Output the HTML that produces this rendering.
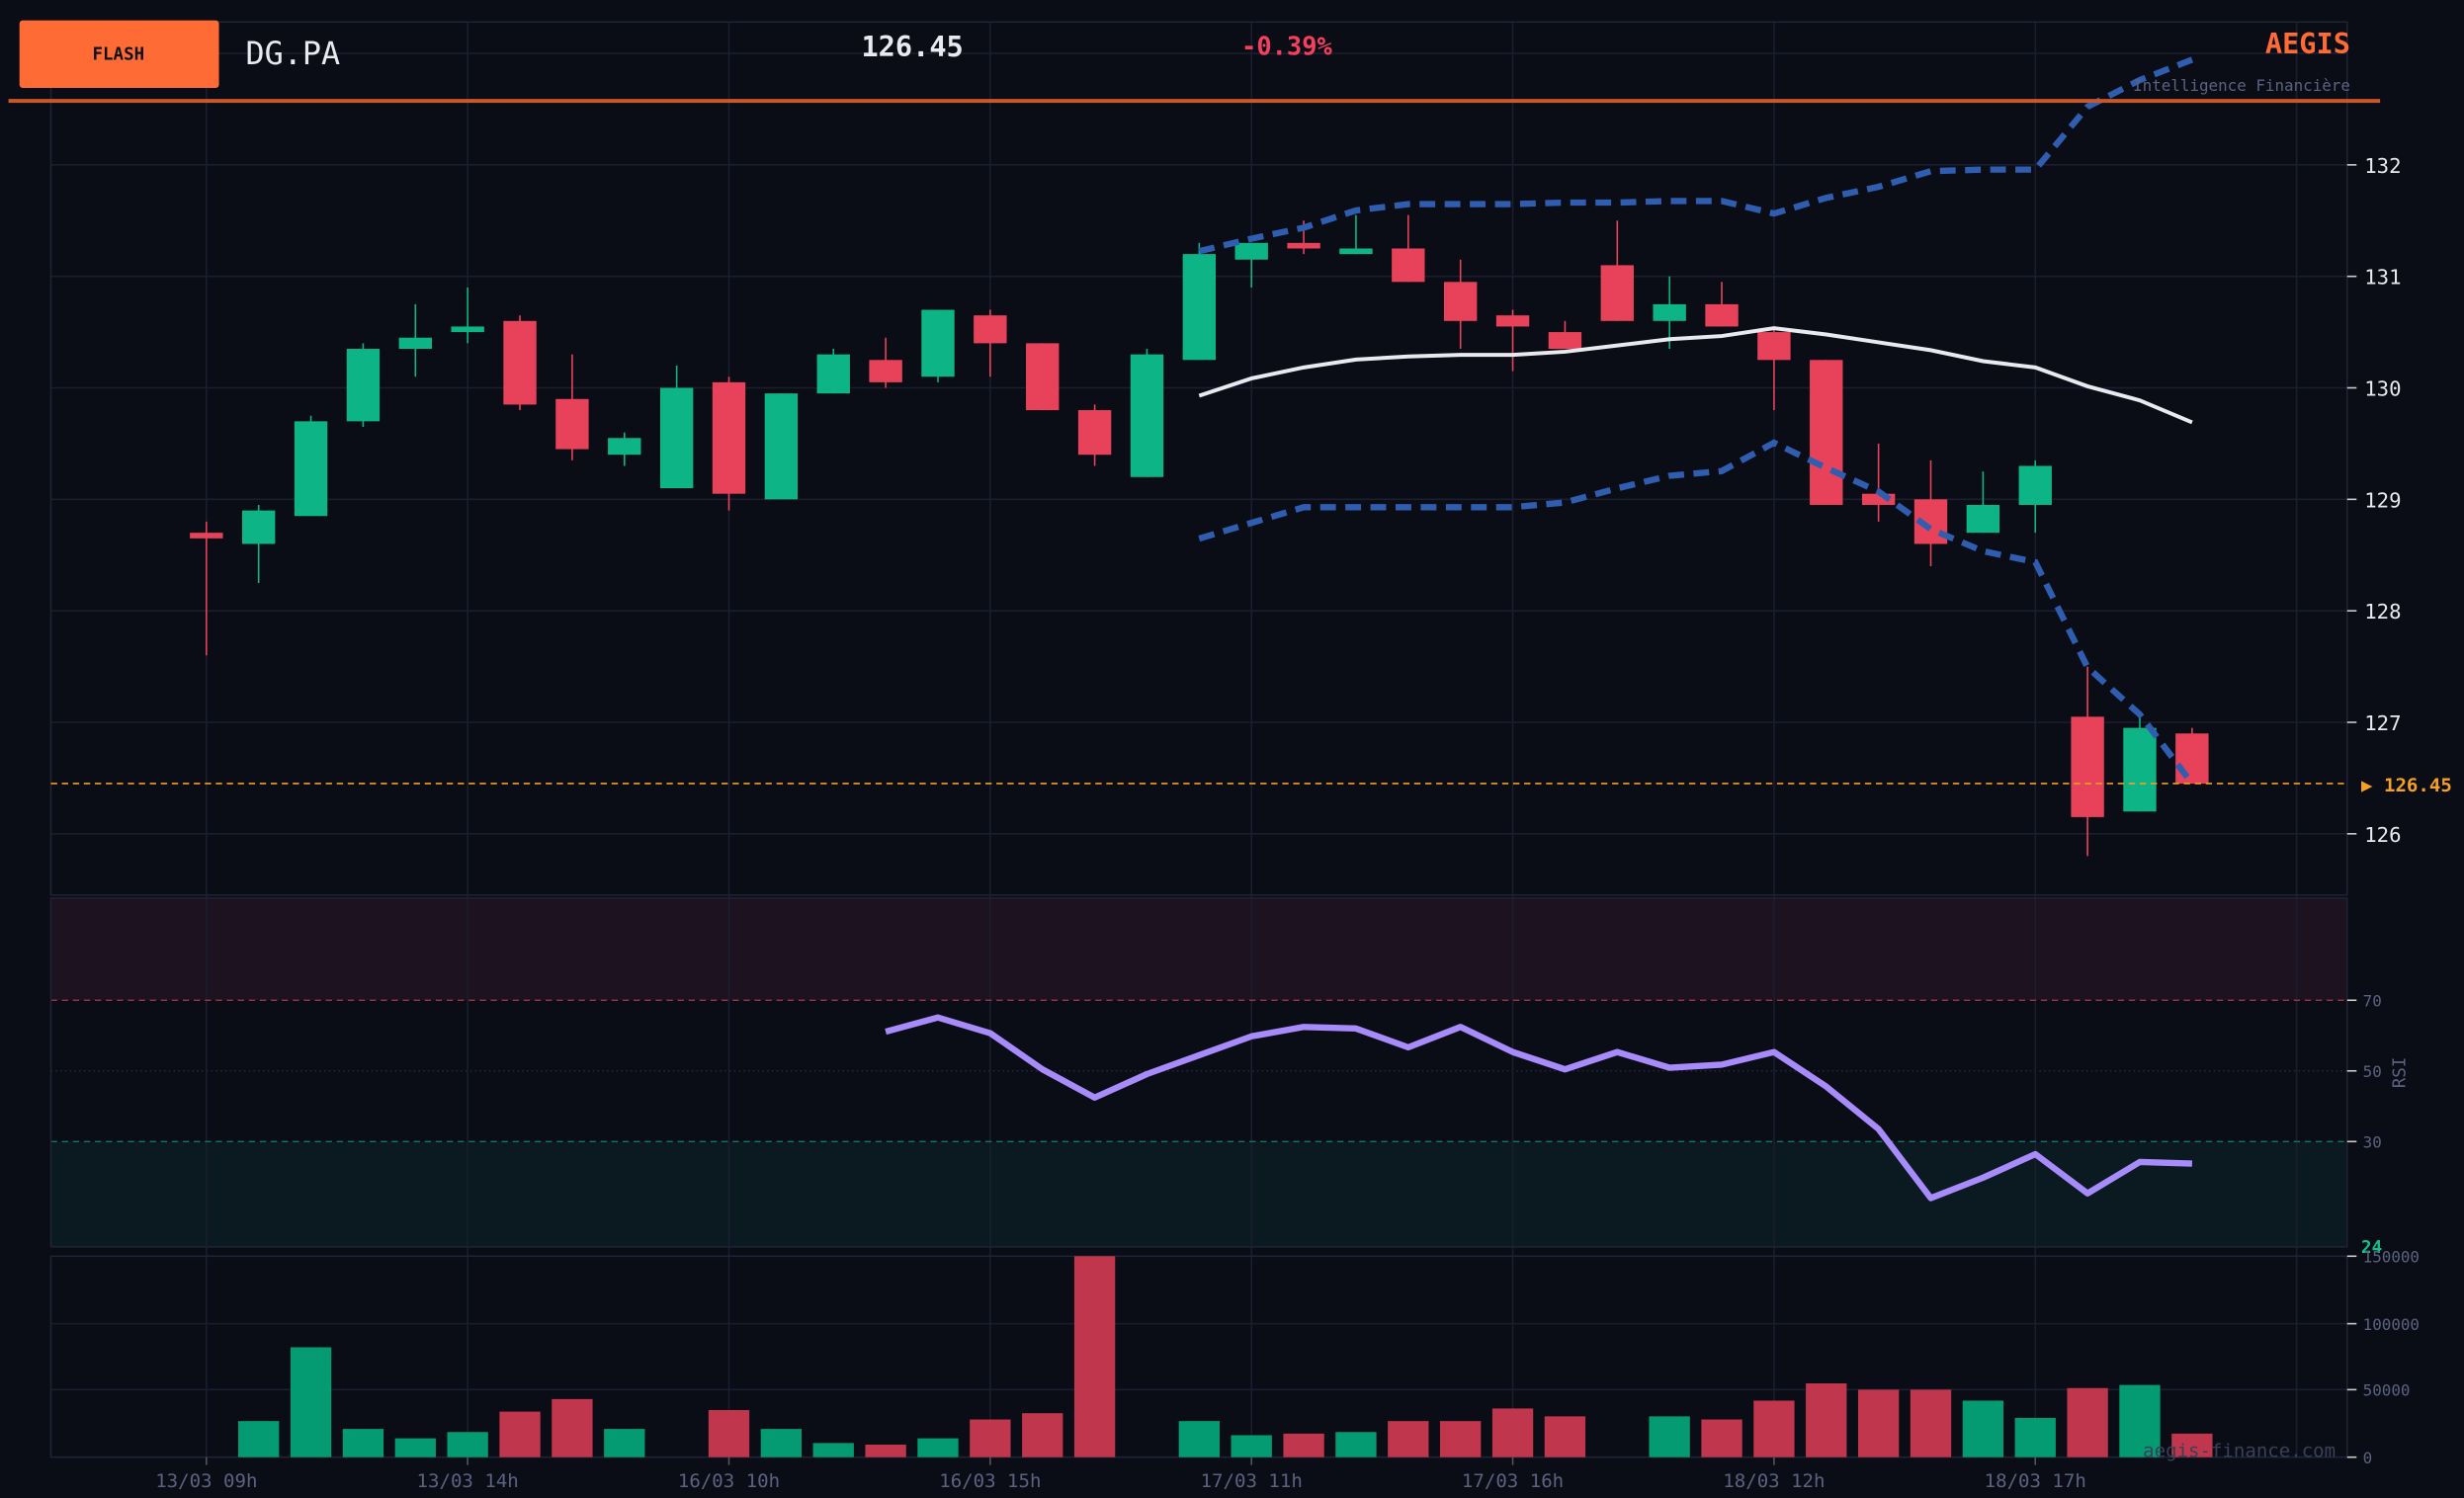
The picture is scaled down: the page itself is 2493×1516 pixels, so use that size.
<!DOCTYPE html>
<html><head><meta charset="utf-8"><style>
html,body{margin:0;padding:0;background:#0b0d16;}
svg{display:block;font-family:"DejaVu Sans Mono","Liberation Mono",monospace;}
</style></head><body>
<svg id="c" width="2493" height="1516" viewBox="0 0 1568 954" xmlns="http://www.w3.org/2000/svg">
<rect width="1568" height="954" fill="#0b0d16"/>
<g id="g"></g>
</svg>
<script>
const NS="http://www.w3.org/2000/svg",G=document.getElementById('g');
function el(t,a,txt){const e=document.createElementNS(NS,t);for(const k in a)e.setAttribute(k,a[k]);if(txt!==undefined)e.textContent=txt;G.appendChild(e);return e;}
const X=i=>131+i*33.27, Y=p=>105+(132-p)*71;
// panels
el('rect',{x:32,y:572,width:1462,height:65,fill:'#1c1220'});
el('rect',{x:32,y:727,width:1462,height:67,fill:'#0a1a20'});
// grids
for(let p=126;p<=133;p++) el('line',{x1:32,x2:1494,y1:Y(p),y2:Y(p),stroke:'#1a1e2e','stroke-width':1});
[682].forEach(y=>el('line',{x1:32,x2:1494,y1:y,y2:y,stroke:'#23283a','stroke-width':1,'stroke-dasharray':'1 2'}));
[843,885].forEach(y=>el('line',{x1:32,x2:1494,y1:y,y2:y,stroke:'#1a1e2e'}));
for(let k=0;k<9;k++){const x=131+k*166.35;el('line',{x1:x,x2:x,y1:14,y2:928,stroke:'#1a1e2e'});}
el('line',{x1:32,x2:1494,y1:637,y2:637,stroke:'#b03a48','stroke-dasharray':'4 3','stroke-width':0.8});
el('line',{x1:32,x2:1494,y1:727,y2:727,stroke:'#13806a','stroke-dasharray':'4 3','stroke-width':0.8});
// borders
el('rect',{x:32,y:14,width:1462,height:556,fill:'none',stroke:'#1e2436'});
el('rect',{x:32,y:572,width:1462,height:222,fill:'none',stroke:'#1e2436'});
el('rect',{x:32,y:800,width:1462,height:128,fill:'none',stroke:'#1e2436'});
// candles o,c,h,l
const C=[[128.7,128.65,128.8,127.6],[128.6,128.9,128.95,128.25],[128.85,129.7,129.75,128.85],[129.7,130.35,130.4,129.65],[130.35,130.45,130.75,130.1],[130.5,130.55,130.9,130.4],[130.6,129.85,130.65,129.8],[129.9,129.45,130.3,129.35],[129.4,129.55,129.6,129.3],[129.1,130.0,130.2,129.1],[130.05,129.05,130.1,128.9],[129.0,129.95,129.95,129.0],[129.95,130.3,130.35,129.95],[130.25,130.05,130.45,130.0],[130.1,130.7,130.7,130.05],[130.65,130.4,130.7,130.1],[130.4,129.8,130.4,129.8],[129.8,129.4,129.85,129.3],[129.2,130.3,130.35,129.2],[130.25,131.2,131.3,130.25],[131.15,131.3,131.3,130.9],[131.3,131.25,131.5,131.2],[131.2,131.25,131.55,131.2],[131.25,130.95,131.55,130.95],[130.95,130.6,131.15,130.35],[130.65,130.55,130.7,130.15],[130.5,130.35,130.6,130.35],[131.1,130.6,131.5,130.6],[130.6,130.75,131.0,130.35],[130.75,130.55,130.95,130.55],[130.5,130.25,130.55,129.8],[130.25,128.95,130.25,128.95],[129.05,128.95,129.5,128.8],[129.0,128.6,129.35,128.4],[128.7,128.95,129.25,128.7],[128.95,129.3,129.35,128.7],[127.05,126.15,127.5,125.8],[126.2,126.95,127.1,126.2],[126.9,126.45,126.95,126.45]];
const V=[null,905,858,910,916,912,899,891,910,null,898,910,919,920,916,904,900,800,null,905,914,913,912,905,905,897,902,null,902,904,892,881,885,885,892,903,884,882,913];
C.forEach((c,i)=>{const up=c[1]>=c[0],col=up?'#0db486':'#e8425a',x=X(i);
 el('line',{x1:x,x2:x,y1:Y(c[2]),y2:Y(c[3]),stroke:col,'stroke-width':1});
 const t=Math.min(Y(c[0]),Y(c[1])),h=Math.max(3,Math.abs(Y(c[0])-Y(c[1])));
 el('rect',{x:x-10.5,y:t,width:21,height:h,fill:col});
 if(V[i]!==null) el('rect',{x:x-13,y:V[i],width:26,height:928-V[i],fill:up?'#049a72':'#c0364c'});
});
const pts=a=>a.map((y,k)=>X(19+k).toFixed(1)+','+y).join(' ');
const U=[160,152,145,134,130,130,130,129,129,128,128,136,126,119,109,108,108,68,51,38];
const M=[252,241,234,229,227,226,226,224,220,216,214,209,213,218,223,230,234,246,255,269];
const L=[343,333,323,323,323,323,323,320,311,303,300,282,298,313,337,351,358,425,455,499];
el('polyline',{points:pts(U),fill:'none',stroke:'#2f5db0','stroke-width':4,'stroke-dasharray':'10 6'});
el('polyline',{points:pts(L),fill:'none',stroke:'#2f5db0','stroke-width':4,'stroke-dasharray':'10 6'});
el('polyline',{points:pts(M),fill:'none',stroke:'#e8eaf0','stroke-width':2.5});
const R=[657,648,658,681,699,684,672,660,654,655,667,654,670,681,670,680,678,670,692,719,763,750,735,760,740,741];
el('polyline',{points:R.map((y,k)=>X(13+k).toFixed(1)+','+y).join(' '),fill:'none',stroke:'#a78bfa','stroke-width':4,'stroke-linejoin':'round'});
// current price
el('line',{x1:32,x2:1494,y1:499,y2:499,stroke:'#f5a020','stroke-dasharray':'4 3','stroke-width':1});
el('text',{x:1503,y:504,fill:'#f5a020','font-size':12,'font-weight':'bold'},'▶ 126.45');
// axis labels
for(let p=126;p<=132;p++){el('line',{x1:1494,x2:1500,y1:Y(p),y2:Y(p),stroke:'#ccc'});el('text',{x:1505,y:Y(p)+5,fill:'#e8eaf0','font-size':13},p);}
[[70,637],[50,682],[30,727]].forEach(a=>{el('line',{x1:1494,x2:1500,y1:a[1],y2:a[1],stroke:'#ccc'});el('text',{x:1504,y:a[1]+4,fill:'#5a6280','font-size':10},a[0]);});
el('text',{x:1503,y:798,fill:'#10c090','font-size':11,'font-weight':'bold'},'24');
el('text',{x:0,y:0,fill:'#5a6280','font-size':11,transform:'translate(1531,693) rotate(-90)'},'RSI');
[[150000,800],[100000,843],[50000,885],[0,928]].forEach(a=>{el('line',{x1:1494,x2:1500,y1:a[1],y2:a[1],stroke:'#ccc'});el('text',{x:1504,y:a[1]+4,fill:'#5a6280','font-size':10},a[0]);});
['13/03 09h','13/03 14h','16/03 10h','16/03 15h','17/03 11h','17/03 16h','18/03 12h','18/03 17h'].forEach((t,k)=>{const x=131+k*166.35;el('line',{x1:x,x2:x,y1:928,y2:933,stroke:'#555'});el('text',{x:x,y:947,fill:'#5a6280','font-size':12,'text-anchor':'middle'},t);});
el('text',{x:1364,y:928,fill:'#3a4058','font-size':12},'aegis-finance.com');
// header
el('rect',{x:12,y:13,width:127,height:43,rx:2,fill:'#ff6b35'});
el('text',{x:75,y:38,fill:'#111','font-size':11,'font-weight':'bold','text-anchor':'middle'},'FLASH');
el('text',{x:156,y:41,fill:'#e8eaf0','font-size':20},'DG.PA');
el('text',{x:548,y:36,fill:'#e8eaf0','font-size':18,'font-weight':'bold'},'126.45');
el('text',{x:790,y:35,fill:'#f43f5e','font-size':16,'font-weight':'bold'},'-0.39%');
el('text',{x:1496,y:34,fill:'#ff6b35','font-size':18,'font-weight':'bold','text-anchor':'end'},'AEGIS');
el('text',{x:1496,y:58,fill:'#5a6280','font-size':10,'text-anchor':'end'},'Intelligence Financière');
el('rect',{x:5,y:63,width:1510,height:2.5,fill:'#c8582a'});
</script>
</body></html>
